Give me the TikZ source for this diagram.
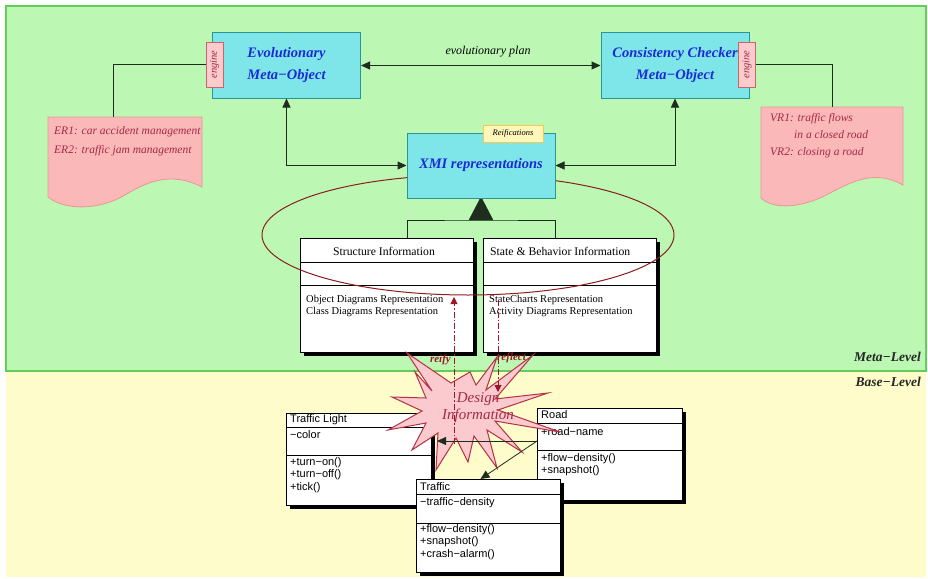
\documentclass[tikz,border=0pt]{standalone}
\usepackage{fontspec}
\usepackage{graphicx}
\setmainfont{Liberation Serif}
\newfontfamily\umlsans{Liberation Sans}
\usetikzlibrary{arrows.meta, calc, shadows}

\definecolor{metagreen}{RGB}{188,248,180}
\definecolor{greenline}{RGB}{100,205,90}
\definecolor{baseyellow}{RGB}{253,252,202}
\definecolor{boxcyan}{RGB}{126,230,232}
\definecolor{boxline}{RGB}{40,150,150}
\definecolor{metablue}{RGB}{28,42,215}
\definecolor{docpink}{RGB}{250,184,184}
\definecolor{docline}{RGB}{236,150,150}
\definecolor{docred}{RGB}{165,40,70}
\definecolor{engpink}{RGB}{251,204,204}
\definecolor{engline}{RGB}{215,95,105}
\definecolor{tagyellow}{RGB}{255,246,185}
\definecolor{tagline}{RGB}{245,200,80}
\definecolor{ringred}{RGB}{140,30,30}
\definecolor{starpink}{RGB}{250,202,206}
\definecolor{starline}{RGB}{180,50,70}
\definecolor{actred}{RGB}{160,20,40}
\definecolor{wiregray}{RGB}{30,45,30}

\tikzset{
  metabox/.style={draw=boxline, fill=boxcyan, line width=1pt, minimum width=148pt,
    minimum height=65pt, align=center, text=metablue,
    font=\fontsize{14.5}{22}\selectfont\bfseries\itshape},
  enginetab/.style={draw=engline, fill=engpink, line width=0.8pt, minimum width=17pt,
    minimum height=45pt, inner sep=0pt, text=docred,
    font=\fontsize{10.5}{10.5}\selectfont\itshape},
  wire/.style={draw=wiregray, line width=1pt},
  docshape/.style={fill=docpink, draw=docline, line width=0.8pt},
  doctext/.style={anchor=north west, inner sep=0pt, align=left, text=docred},
  umlbox/.style={draw, fill=white, line width=1pt, inner sep=0pt, anchor=north west,
    drop shadow={shadow xshift=3.5pt, shadow yshift=-3.5pt, fill=black, opacity=1}},
  umlhead/.style={inner sep=0pt, font=\fontsize{11.7}{14}\selectfont},
  umltext/.style={anchor=north west, inner sep=0pt, align=left,
    font=\fontsize{10.5}{12.5}\selectfont},
  sanshead/.style={anchor=west, inner sep=0pt, font=\umlsans\fontsize{11}{12.5}\selectfont},
  sanstext/.style={anchor=north west, inner sep=0pt, align=left,
    font=\umlsans\fontsize{11}{12.5}\selectfont},
  tagbox/.style={draw=tagline, fill=tagyellow, line width=1pt, minimum width=60pt,
    minimum height=17pt, inner sep=0pt, font=\fontsize{8.5}{9}\selectfont\itshape},
  actarrow/.style={draw=actred, line width=0.9pt, dash pattern=on 6pt off 2pt on 1.5pt off 2pt,
    -{Triangle[length=7pt,width=7pt]}, actred},
  actlabel/.style={inner sep=0pt, text=actred, font=\fontsize{11}{12}\selectfont\bfseries\itshape},
  levellabel/.style={anchor=east, inner sep=0pt, text=black!85,
    font=\fontsize{13.5}{15}\selectfont\bfseries\itshape}
}

\begin{document}
\begin{tikzpicture}[x=1pt, y=-1pt, >={Triangle[length=9pt,width=8pt]}]
  \useasboundingbox (0,0) rectangle (928,578);
  % the two levels
  \fill[white] (0,0) rectangle (928,578);
  \fill[baseyellow] (6,371) rectangle (926,577);
  \filldraw[fill=metagreen, draw=greenline, line width=1.5pt] (6,6) rectangle (926,371);
  \node[levellabel] (metalvl) at (921,357) {Meta−Level};
  \node[levellabel] (baselvl) at (921,382) {Base−Level};

  % meta-objects
  \node[metabox] (evo) at (286.5,65.5) {Evolutionary\\Meta−Object};
  \node[metabox] (cons) at (675,65.5) {Consistency Checker\\Meta−Object};
  \node[enginetab] (evoeng) at (214.5,64.5) {\rotatebox{90}{engine}};
  \node[enginetab] (conseng) at (747,64.5) {\rotatebox{90}{engine}};
  \draw[wire, <->] (evo.east) -- (cons.west);
  \node[inner sep=0pt, font=\fontsize{12}{14}\selectfont\itshape] (plan) at (488,52) {evolutionary plan};

  % rule documents
  \filldraw[docshape] (48,117) -- (202,117) -- (202,187)
    .. controls (172,172) and (150,180) .. (125,195)
    .. controls (100,210) and (65,211) .. (48,197) -- cycle;
  \node[doctext, font=\fontsize{11.5}{19}\selectfont\itshape] (er) at (54,126)
    {ER1: car accident management\\ER2: traffic jam management};
  \coordinate (ertop) at (113,117);
  \draw[wire] (ertop) |- (evoeng.west);

  \filldraw[docshape] (761,107) -- (903,107) -- (903,185)
    .. controls (876,170) and (855,180) .. (830,193)
    .. controls (805,207) and (775,211) .. (761,198) -- cycle;
  \node[doctext, font=\fontsize{11.5}{17}\selectfont\itshape] (vr) at (770,113)
    {VR1: traffic flows\\\hspace*{24pt}in a closed road\\VR2: closing a road};
  \coordinate (vrtop) at (832,107);
  \draw[wire] (vrtop) |- (conseng.east);

  % XMI parts
  \node[umlbox, minimum width=173pt, minimum height=114pt] (struct) at (300,238) {};
  \draw[line width=1pt] ($(struct.north west)+(0,24)$) -- ($(struct.north east)+(0,24)$);
  \draw[line width=1pt] ($(struct.north west)+(0,47)$) -- ($(struct.north east)+(0,47)$);
  \node[umlhead] (structname) at (384,251) {Structure Information};
  \node[umltext] (structops) at (306,295)
    {Object Diagrams Representation\\Class Diagrams Representation};

  \node[umlbox, minimum width=173pt, minimum height=114pt] (state) at (483,238) {};
  \draw[line width=1pt] ($(state.north west)+(0,24)$) -- ($(state.north east)+(0,24)$);
  \draw[line width=1pt] ($(state.north west)+(0,47)$) -- ($(state.north east)+(0,47)$);
  \node[umlhead, anchor=west] (statename) at (490,251) {State \& Behavior Information};
  \node[umltext] (stateops) at (489,295)
    {StateCharts Representation\\Activity Diagrams Representation};

  \coordinate (genbase) at (481,220);
  \draw[wire] ([xshift=20pt]struct.north) |- (genbase) -| ([xshift=-15pt]state.north);
  \filldraw[wiregray] (481,197) -- ++(-12,23) -- ++(24,0) -- cycle;

  \draw[ringred, line width=1pt] (468,235) ellipse [x radius=206pt, y radius=60pt];

  \node[metabox, font=\fontsize{14.5}{17}\selectfont\bfseries\itshape] (xmi) at (481,165.5) {XMI representations};
  \node[tagbox] (reif) at (513,133.5) {Reifications};
  \draw[wire, <->] (evo.south) |- (xmi.west);
  \draw[wire, <->] (cons.south) |- (xmi.east);

  % base-level classes
  \node[umlbox, minimum width=145pt, minimum height=92pt] (tl) at (286,413) {};
  \draw ($(tl.north west)+(0,14)$) -- ($(tl.north east)+(0,14)$);
  \draw ($(tl.north west)+(0,42)$) -- ($(tl.north east)+(0,42)$);
  \node[sanshead] (tlname) at (290,420) {Traffic Light};
  \node[sanshead] (tlattr) at (290,435) {−color};
  \node[sanstext] (tlops) at (290,457) {+turn−on()\\+turn−off()\\+tick()};

  \node[umlbox, minimum width=145pt, minimum height=92pt] (road) at (537,408) {};
  \draw ($(road.north west)+(0,15)$) -- ($(road.north east)+(0,15)$);
  \draw ($(road.north west)+(0,42)$) -- ($(road.north east)+(0,42)$);
  \node[sanshead] (roadname) at (541,415) {Road};
  \node[sanshead] (roadattr) at (541,432) {+road−name};
  \node[sanstext] (roadops) at (541,453) {+flow−density()\\+snapshot()};

  % design information
  \filldraw[fill=starpink, draw=starline, line width=1pt]
    (407,353) -- (451,383) -- (470,372) -- (476,385) -- (497,357) -- (486,390)
    -- (533,355) -- (495,399) -- (548,393) -- (498,410) -- (560,432) -- (495,421)
    -- (522,452) -- (487,430) -- (497,468) -- (474,436) -- (468,462) -- (456,438)
    -- (436,470) -- (438,433) -- (412,450) -- (426,423) -- (388,430) -- (422,411)
    -- (392,397) -- (426,398) -- (415,372) -- (432,391) -- cycle;
  \node[align=center, inner sep=0pt, text=docred, font=\fontsize{15}{17}\selectfont\itshape]
    (design) at (478,408) {Design\\Information};

  \node[umlbox, minimum width=144pt, minimum height=93pt] (traffic) at (416,479) {};
  \draw ($(traffic.north west)+(0,15)$) -- ($(traffic.north east)+(0,15)$);
  \draw ($(traffic.north west)+(0,44)$) -- ($(traffic.north east)+(0,44)$);
  \node[sanshead] (trafficname) at (420,487) {Traffic};
  \node[sanshead] (trafficattr) at (420,503) {−traffic−density};
  \node[sanstext] (trafficops) at (420,524) {+flow−density()\\+snapshot()\\+crash−alarm()};

  \coordinate (roadport) at ($(road.north west)+(0,33)$);
  \draw[wire, line width=0.8pt, ->] (roadport) -- ([xshift=5pt]roadport -| tl.east);
  \draw[wire, line width=0.8pt, ->] (roadport) -- ([xshift=-8pt]traffic.north);

  % reify / reflect
  \coordinate (reifyfoot) at (454,444);
  \coordinate (reifytip) at (454,297);
  \draw[actarrow] (reifyfoot) -- (reifytip);
  \node[actlabel, anchor=east] (reifylbl) at (451,360) {reify};
  \coordinate (reflectfoot) at (498,300);
  \coordinate (reflecttip) at (498,392);
  \draw[actarrow] (reflectfoot) -- (reflecttip);
  \node[actlabel, anchor=west] (reflectlbl) at (497,358) {reflect};
\end{tikzpicture}
\end{document}
